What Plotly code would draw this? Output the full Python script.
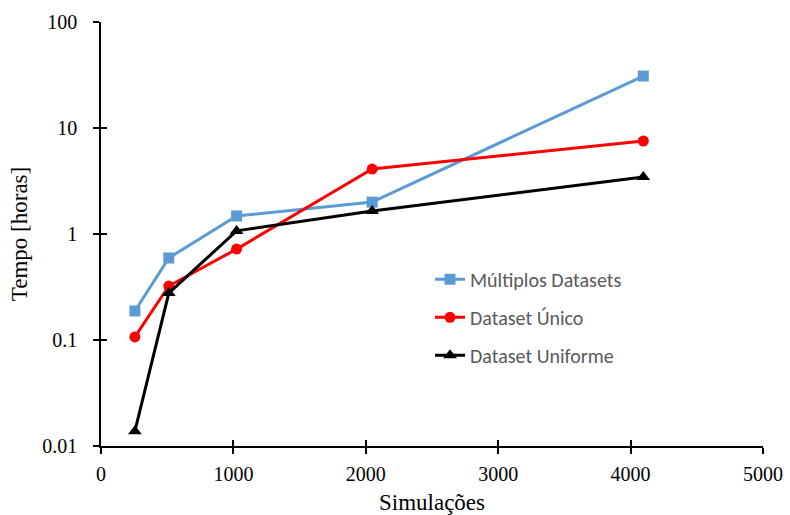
import plotly.graph_objects as go

simulacoes = [256, 512, 1024, 2048, 4096]
multiplos = [0.188, 0.594, 1.48, 2.0, 30.9]
unico = [0.107, 0.323, 0.72, 4.1, 7.54]
uniforme = [0.0138, 0.277, 1.07, 1.65, 3.45]

x_ticks = [0, 1000, 2000, 3000, 4000, 5000]
y_ticks = [0.01, 0.1, 1, 10, 100]
y_labels = ["0.01", "0.1", "1", "10", "100"]

fig = go.Figure()
series = [
    ("Múltiplos Datasets", multiplos, "#5B9BD5", "square"),
    ("Dataset Único", unico, "#FF0000", "circle"),
    ("Dataset Uniforme", uniforme, "#000000", "triangle-up"),
]
for i, (name, vals, col, sym) in enumerate(series):
    fig.add_trace(go.Scatter(
        x=simulacoes, y=vals, name=name, mode="lines+markers",
        line=dict(color=col, width=3),
        marker=dict(symbol=sym, size=11 if sym != "triangle-up" else 12, color=col),
        legendgroup=f"g{i}",
    ))

# invisible trace on overlay axes to obtain crossing ticks
fig.add_trace(go.Scatter(x=[None], y=[None], xaxis="x2", yaxis="y2", showlegend=False, hoverinfo="skip"))

serif = "Liberation Serif, Times New Roman, serif"
axis_font = dict(family=serif, size=20, color="#000000")
title_font = dict(family=serif, size=23, color="#000000")

fig.update_layout(
    width=790, height=515,
    margin=dict(l=101, r=27, t=22, b=69),
    paper_bgcolor="white", plot_bgcolor="white",
    showlegend=True,
    legend=dict(
        x=0.497, y=0.439, xanchor="left", yanchor="top",
        font=dict(family="Carlito, Lato, sans-serif", size=20, color="#595959"),
        bgcolor="rgba(0,0,0,0)", traceorder="grouped", tracegroupgap=9,
    ),
    xaxis=dict(
        range=[0, 5000], tickvals=x_ticks, ticktext=[str(v) for v in x_ticks],
        showgrid=False, zeroline=False, showline=True, linecolor="black", linewidth=1.5,
        ticks="outside", ticklen=6, tickwidth=1.5, tickcolor="black",
        tickfont=axis_font, ticklabelstandoff=3, automargin=False,
        title=dict(text="Simulações", font=title_font, standoff=10),
    ),
    yaxis=dict(
        type="log", range=[-2, 2], tickvals=y_ticks, ticktext=y_labels,
        showgrid=False, zeroline=False, showline=True, linecolor="black", linewidth=1.5,
        ticks="outside", ticklen=6, tickwidth=1.5, tickcolor="black",
        tickfont=axis_font, ticklabelstandoff=12, automargin=False,
        title=dict(text="Tempo [horas]", font=title_font, standoff=8),
    ),
    xaxis2=dict(
        range=[0, 5000], tickvals=x_ticks, overlaying="x", anchor="y2",
        showgrid=False, zeroline=False, showline=False, showticklabels=False,
        ticks="inside", ticklen=6, tickwidth=1.5, tickcolor="black",
    ),
    yaxis2=dict(
        type="log", range=[-2, 2], tickvals=y_ticks, overlaying="y", anchor="x2",
        showgrid=False, zeroline=False, showline=False, showticklabels=False,
        ticks="inside", ticklen=6, tickwidth=1.5, tickcolor="black",
    ),
)

fig.write_html("out.html")
